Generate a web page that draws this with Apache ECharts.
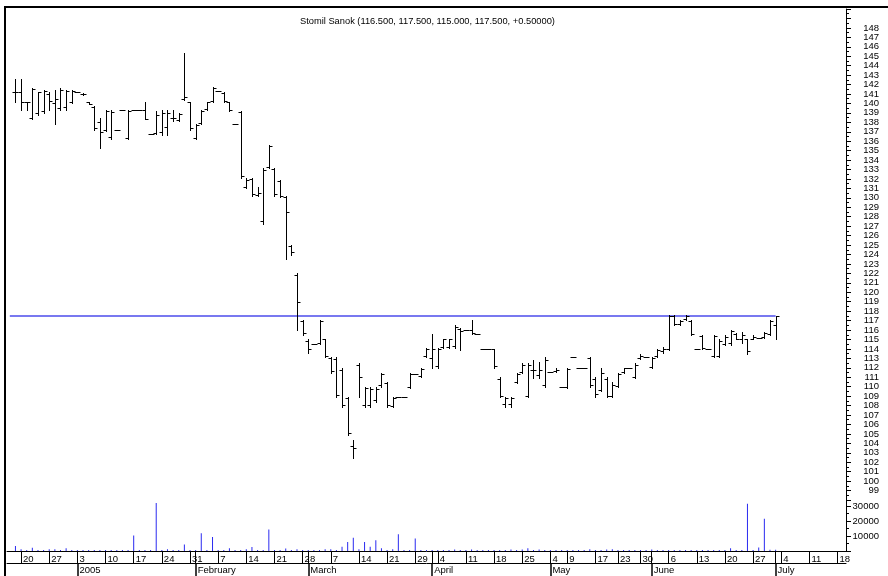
<!DOCTYPE html>
<html>
<head>
<meta charset="utf-8">
<script src="https://cdn.jsdelivr.net/npm/echarts@6/dist/echarts.min.js"></script>
<style>
html, body { margin: 0; padding: 0; background: #fff; }
#main { width: 888px; height: 576px; }
</style>
</head>
<body>
<div id="main"></div>
<script>
// trading calendar: weekdays from firstDay to lastDay, minus exchange holidays
var firstDay = '2004-12-16';
var lastDay = '2005-07-19';
var holidays = ['2005-03-28', '2005-05-02', '2005-05-03', '2005-05-16', '2005-05-26'];
var monthNames = ['January', 'February', 'March', 'April', 'May', 'June',
                  'July', 'August', 'September', 'October', 'November', 'December'];
var dataStart = 1; // first traded day (2004-12-17) is category 1

// daily prices (PLN)
var opens = [141.2,141.2,140.1,138.5,139.0,139.2,141.0,140.0,139.5,139.6,
  140.2,141.2,141.0,140.2,139.6,138.0,137.2,136.4,137.2,139.3,
  136.3,139.3,139.3,139.3,136.8,136.9,137.0,137.5,138.5,138.2,
  140.5,140.1,136.3,137.9,139.4,140.3,141.3,141.1,140.1,137.8,
  139.1,131.2,132.0,130.3,127.5,133.3,133.1,131.8,130.1,124.9,
  121.8,117.0,114.8,114.5,114.6,115.0,113.0,112.9,111.8,108.8,
  103.7,112.3,108.1,108.1,108.6,110.2,110.4,108.0,108.9,108.9,
  110.0,111.3,111.1,113.2,113.0,112.2,114.2,114.2,114.3,116.1,
  116.0,116.0,115.6,114.0,114.0,114.0,110.8,108.2,108.2,110.5,
  111.6,109.0,111.8,111.2,110.2,111.6,111.7,110.0,110.0,113.1,
  112.0,112.0,113.0,110.8,109.6,110.8,109.0,110.1,111.6,112.0,
  111.0,113.0,113.1,112.1,113.2,113.8,114.0,117.5,116.6,117.2,
  117.0,114.0,115.4,114.0,113.2,113.3,114.5,114.6,115.6,115.0,
  115.0,115.0,115.2,115.3,115.6,116.5];
var highs = [142.6,142.6,140.2,141.6,141.2,141.4,141.2,141.4,141.6,141.4,
  141.4,141.2,141.1,140.2,139.7,138.5,139.3,139.3,137.2,139.3,
  139.3,139.3,139.3,140.1,136.8,139.2,139.3,139.3,139.3,139.0,
  145.3,140.2,137.8,139.3,140.2,141.7,141.3,141.2,140.2,137.8,
  139.2,132.1,132.1,131.2,133.2,135.6,133.2,131.9,130.2,125.0,
  122.0,117.1,115.0,114.5,117.1,115.1,113.1,113.1,112.0,108.9,
  104.4,112.5,110.0,110.0,110.0,111.5,110.5,108.9,108.9,108.9,
  111.5,111.3,112.0,114.1,115.6,114.1,115.1,115.1,116.5,116.2,
  116.0,117.1,115.6,114.0,114.0,114.0,111.0,108.9,108.9,111.5,
  112.5,112.5,112.8,112.6,113.1,111.6,112.0,110.0,112.0,113.1,
  112.0,112.0,113.1,111.0,112.0,111.0,110.5,111.5,112.0,112.0,
  112.5,113.5,113.1,113.1,114.0,114.2,117.6,117.6,117.1,117.6,
  117.1,114.0,115.5,114.0,115.5,115.0,115.5,116.0,115.7,115.8,
  115.1,115.5,115.2,115.8,117.1,117.5];
var lows = [140.2,139.3,139.3,138.3,138.8,139.0,139.3,137.8,139.3,139.3,
  140.0,141.2,140.9,139.9,137.2,135.3,137.1,136.2,137.2,139.3,
  136.2,139.3,139.3,138.3,136.8,136.8,136.7,136.7,138.1,138.1,
  140.4,137.2,136.2,137.8,139.3,140.2,141.3,140.2,139.2,137.8,
  132.1,131.0,130.2,130.2,127.2,133.2,130.2,130.1,123.5,124.0,
  116.0,115.5,113.6,114.5,114.5,113.1,111.5,108.9,107.9,104.9,
  102.5,108.9,107.9,107.9,108.4,110.0,107.9,107.9,108.9,108.9,
  109.9,111.3,111.0,113.1,112.0,112.0,114.1,114.1,114.1,113.9,
  116.0,115.6,115.6,114.0,114.0,112.0,108.9,107.9,107.9,110.4,
  111.5,108.9,110.9,110.9,110.0,111.6,111.6,110.0,109.9,113.1,
  112.0,112.0,110.0,108.9,109.5,108.9,108.9,110.0,111.5,112.0,
  110.9,112.9,113.1,112.0,113.1,113.6,113.9,116.5,116.5,117.1,
  115.5,114.0,114.0,114.0,113.1,113.1,114.4,114.4,115.0,114.6,
  113.5,115.0,115.2,115.2,115.5,115.0];
var closes = [141.2,140.2,140.1,141.5,141.2,141.3,140.3,140.5,141.4,141.3,
  141.3,141.2,141.0,139.9,137.4,137.0,139.2,139.1,137.2,139.3,
  139.2,139.3,139.3,138.4,136.8,138.8,139.0,139.0,138.5,138.9,
  140.7,137.4,137.7,139.2,140.1,141.6,141.3,140.3,139.3,137.8,
  132.3,131.9,130.4,130.5,133.0,135.5,130.4,130.2,128.5,124.3,
  119.0,115.7,114.0,114.5,117.0,113.3,111.7,109.1,108.1,105.1,
  103.5,111.0,109.9,109.8,109.8,111.3,108.1,108.8,108.9,108.9,
  111.3,111.3,111.9,114.0,114.0,114.0,115.0,115.0,116.3,115.9,
  116.0,115.7,115.6,114.0,114.0,112.2,109.0,108.8,108.8,111.3,
  112.3,112.3,111.8,111.8,112.8,111.6,111.8,110.0,111.9,113.1,
  112.0,112.0,110.2,109.2,111.5,109.0,110.2,111.3,112.0,112.0,
  112.3,113.3,113.1,113.0,113.9,114.0,117.5,116.6,117.0,117.5,
  115.6,114.0,114.1,114.0,115.4,114.8,115.3,115.9,115.1,115.5,
  113.8,115.3,115.2,115.7,117.0,117.5];
// daily volume (shares)
var volumes = [3300,1100,700,2200,700,700,1100,1100,700,1800,
  700,700,700,700,700,700,700,700,700,700,
  700,10400,700,700,700,32000,700,1100,700,700,
  4400,700,700,11800,700,9300,700,700,1800,700,
  700,1100,2700,700,700,14400,700,700,1600,700,
  1100,700,700,700,700,1100,1100,700,2900,6000,
  8900,1100,6000,2900,7100,1800,700,1100,11100,700,
  700,8400,700,700,700,700,700,700,1000,700,
  700,1000,700,700,700,700,700,700,1000,700,
  1000,1800,700,1000,700,700,700,700,700,700,
  700,700,1100,700,700,1000,1100,700,700,700,
  700,700,700,1000,700,700,700,700,700,700,
  700,700,700,700,700,700,700,1800,700,700,
  31500,700,2400,21500,900,900];

var font = 'Liberation Sans, Arial, sans-serif';

var dates = [];
var day = new Date(firstDay + 'T00:00:00Z');
var end = new Date(lastDay + 'T00:00:00Z');
while (day <= end) {
    var s = day.toISOString().slice(0, 10);
    var wd = day.getUTCDay();
    if (wd !== 0 && wd !== 6 && holidays.indexOf(s) < 0) dates.push(s);
    day.setUTCDate(day.getUTCDate() + 1);
}
function dow(i) { return new Date(dates[i] + 'T00:00:00Z').getUTCDay(); }
function isWeekStart(i) { return i > 0 && dow(i) <= dow(i - 1); }
function isMonthStart(i) { return i > 0 && dates[i].slice(5, 7) !== dates[i - 1].slice(5, 7); }

var ohlc = opens.map(function (o, k) {
    return [k + dataStart, o, highs[k], lows[k], closes[k]];
});
var vols = volumes.map(function (v, k) { return [k + dataStart, v]; });
var last = closes.length - 1;
var lastClose = closes[last];
var levelLine = [];
for (var i = 0; i <= last + dataStart; i++) levelLine.push([i, lastClose]);

var change = closes[last] - closes[last - 1];
var titleText = 'Stomil Sanok (' + opens[last].toFixed(3) + ', ' + highs[last].toFixed(3) + ', ' +
    lows[last].toFixed(3) + ', ' + closes[last].toFixed(3) + ', ' +
    (change >= 0 ? '+' : '') + change.toFixed(5) + ')';

function renderBar(params, api) {
    var idx = api.value(0);
    var x = Math.round(api.coord([idx, 0])[0]) + 0.5;
    var yO = Math.round(api.coord([idx, api.value(1)])[1]) + 0.5;
    var yH = Math.round(api.coord([idx, api.value(2)])[1]);
    var yL = Math.round(api.coord([idx, api.value(3)])[1]) + 1;
    var yC = Math.round(api.coord([idx, api.value(4)])[1]) + 0.5;
    var st = { stroke: '#000', lineWidth: 1 };
    return {
        type: 'group',
        children: [
            { type: 'line', shape: { x1: x, y1: yH, x2: x, y2: yL }, style: st },
            { type: 'line', shape: { x1: x - 3, y1: yO, x2: x, y2: yO }, style: st },
            { type: 'line', shape: { x1: x, y1: yC, x2: x + 3, y2: yC }, style: st }
        ]
    };
}

var myChart = echarts.init(document.getElementById('main'));

myChart.setOption({
    animation: false,
    backgroundColor: '#fff',
    title: {
        text: titleText,
        left: 300,
        top: 17,
        padding: 0,
        textStyle: { fontSize: 9.3, fontWeight: 'normal', color: '#000', fontFamily: font }
    },
    graphic: [
        { type: 'line', shape: { x1: 4, y1: 7, x2: 888, y2: 7 }, style: { stroke: '#000', lineWidth: 2 } },
        { type: 'line', shape: { x1: 5, y1: 7, x2: 5, y2: 576 }, style: { stroke: '#000', lineWidth: 2 } }
    ],
    grid: [
        { left: 7, right: 42, top: 9, height: 491 },
        { left: 7, right: 42, top: 500, height: 51 }
    ],
    xAxis: [
        {
            gridIndex: 0, type: 'category', data: dates, boundaryGap: true,
            axisLine: { show: false }, axisTick: { show: false }, axisLabel: { show: false }
        },
        {
            gridIndex: 1, type: 'category', data: dates, position: 'bottom', boundaryGap: true,
            axisLine: { show: true, onZero: false, lineStyle: { color: '#000', width: 1 } },
            axisTick: {
                show: true, alignWithLabel: true, length: 12, lineStyle: { color: '#000', width: 1 },
                interval: function (i) { return isWeekStart(i) || isMonthStart(i); }
            },
            axisLabel: {
                show: true,
                interval: function (i) { return isWeekStart(i); },
                formatter: function (v) { return String(Number(v.slice(8))); },
                align: 'left', margin: 3, padding: [0, 0, 0, 2],
                fontSize: 9.5, color: '#000', fontFamily: font
            }
        },
        {
            gridIndex: 1, type: 'category', data: dates, position: 'bottom', offset: 12, boundaryGap: true,
            axisLine: { show: true, onZero: false, lineStyle: { color: '#000', width: 1 } },
            axisTick: {
                show: true, alignWithLabel: true, length: 13, lineStyle: { color: '#000', width: 1.5 },
                interval: function (i) { return isMonthStart(i); }
            },
            axisLabel: {
                show: true,
                interval: function (i) { return isMonthStart(i); },
                formatter: function (v) {
                    var m = Number(v.slice(5, 7)) - 1;
                    return m === 0 ? v.slice(0, 4) : monthNames[m];
                },
                align: 'left', margin: 2, padding: [0, 0, 0, 2],
                fontSize: 9.5, color: '#000', fontFamily: font
            }
        }
    ],
    yAxis: [
        {
            gridIndex: 0, type: 'value', position: 'right', min: 98, max: 150, interval: 1,
            axisLine: { show: true, lineStyle: { color: '#000' } },
            axisTick: { show: true, length: 5, lineStyle: { color: '#000' } },
            minorTick: { show: true, splitNumber: 2, length: 3, lineStyle: { color: '#000' } },
            splitLine: { show: false },
            axisLabel: {
                formatter: function (v) { return v >= 99 && v <= 148 ? String(v) : ''; },
                align: 'right', margin: 33, fontSize: 9.5, color: '#000', fontFamily: font
            }
        },
        {
            gridIndex: 1, type: 'value', position: 'right', min: 0, max: 34000, interval: 10000,
            axisLine: { show: true, lineStyle: { color: '#000' } },
            axisTick: { show: true, length: 5, lineStyle: { color: '#000' } },
            minorTick: { show: true, splitNumber: 2, length: 3, lineStyle: { color: '#000' } },
            splitLine: { show: false },
            axisLabel: {
                formatter: function (v) { return v > 0 && v <= 30000 ? String(v) : ''; },
                align: 'right', margin: 33, fontSize: 9.5, color: '#000', fontFamily: font
            }
        }
    ],
    series: [
        {
            name: 'last close', type: 'line', xAxisIndex: 0, yAxisIndex: 0,
            data: levelLine, symbol: 'none', silent: true, z: 2,
            lineStyle: { color: '#7878f0', width: 2 }
        },
        {
            name: 'Stomil Sanok', type: 'custom', xAxisIndex: 0, yAxisIndex: 0,
            data: ohlc, renderItem: renderBar, z: 3,
            encode: { x: 0, y: [1, 2, 3, 4] }
        },
        {
            name: 'volume', type: 'bar', xAxisIndex: 1, yAxisIndex: 1,
            data: vols, barWidth: 1,
            itemStyle: { color: '#2a2af0' }
        }
    ]
});
</script>
</body>
</html>
